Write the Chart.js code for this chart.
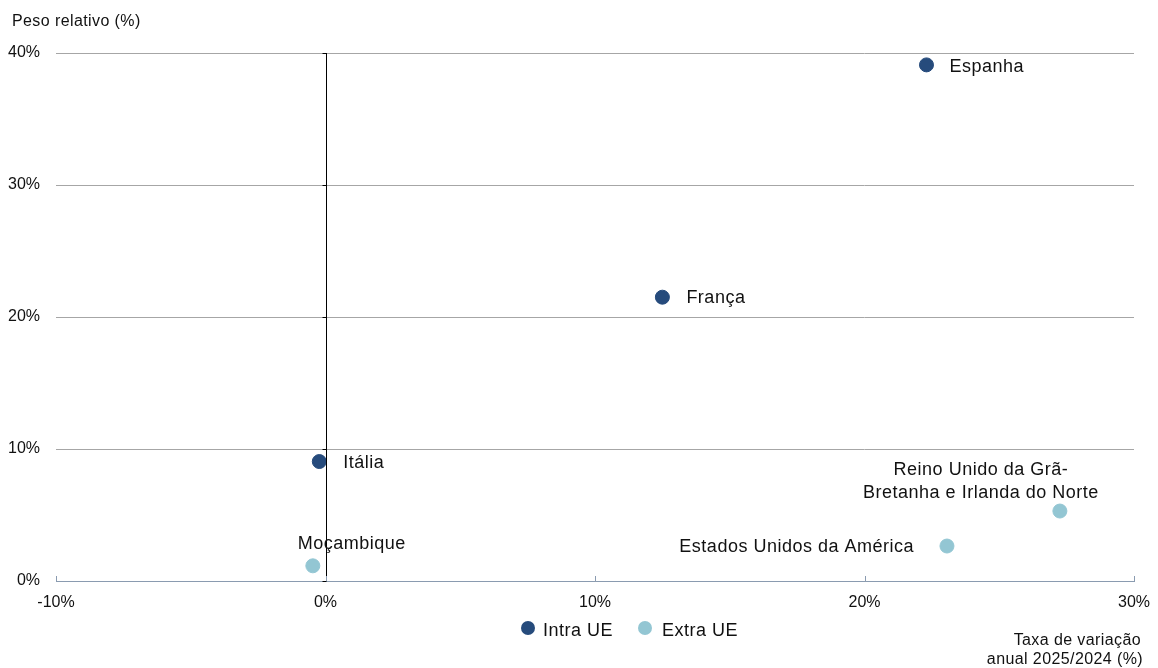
<!DOCTYPE html>
<html>
<head>
<meta charset="utf-8">
<script src="https://cdn.jsdelivr.net/npm/chart.js@4"></script>
<style>
  html, body { margin: 0; padding: 0; background: #fff; }
  #wrap { width: 1158px; height: 668px; }
</style>
</head>
<body>
<div id="wrap"><canvas id="chart" width="1158" height="668"></canvas></div>
<script>
// series
const seriesNames = ["Intra UE", "Extra UE"];
const intraNames = ["Espanha", "França", "Itália"];
const intraX = [22.3, 12.5, -0.23];
const intraY = [39.1, 21.5, 9.05];
const extraNames = ["Moçambique", "Estados Unidos da América", "Reino Unido da Grã-\nBretanha e Irlanda do Norte"];
const extraX = [-0.47, 23.06, 27.25];
const extraY = [1.15, 2.65, 5.3];
const xTicks = [-10, 0, 10, 20, 30];
const yTicks = [0, 10, 20, 30, 40];

const FONT = "Arial, 'Liberation Sans', sans-serif";
const DARK = "#264b7c";
const LIGHT = "#93c6d3";

// label placement relative to the point (dx, dy, align)
const labelPos = {
  "Espanha": [23, 2, "left"],
  "França": [24, 1, "left"],
  "Itália": [24, 1, "left"],
  "Moçambique": [39, -22, "center"],
  "Estados Unidos da América": [-33, 1, "right"],
  "Reino Unido da Grã-\nBretanha e Irlanda do Norte": [-79, -41, "center"]
};

function toPoints(xs, ys, names) {
  return xs.map((x, i) => ({ x: x, y: ys[i], name: names[i] }));
}

const extras = {
  id: "extras",
  afterDatasetsDraw(chart) {
    const ctx = chart.ctx;
    const xs = chart.scales.x, ys = chart.scales.y;
    const area = chart.chartArea;
    ctx.save();

    // vertical axis through x = 0, with small ticks
    const x0 = Math.round(xs.getPixelForValue(0)) + 0.5;
    ctx.strokeStyle = "#000";
    ctx.lineWidth = 1;
    ctx.beginPath();
    ctx.moveTo(x0, area.top);
    ctx.lineTo(x0, area.bottom);
    yTicks.forEach(v => {
      const py = Math.round(ys.getPixelForValue(v)) + 0.5;
      ctx.moveTo(x0 - 4, py);
      ctx.lineTo(x0, py);
    });
    ctx.stroke();

    // bottom axis ticks (inside)
    ctx.strokeStyle = "#8a9bb0";
    ctx.beginPath();
    xTicks.forEach(v => {
      const px = Math.round(xs.getPixelForValue(v)) + 0.5;
      ctx.moveTo(px, area.bottom);
      ctx.lineTo(px, area.bottom - 5);
    });
    ctx.stroke();

    // point labels
    ctx.fillStyle = "#111";
    ctx.font = "18px " + FONT;
    ctx.letterSpacing = "0.5px";
    ctx.textBaseline = "middle";
    chart.data.datasets.forEach(ds => {
      ds.data.forEach(p => {
        const pos = labelPos[p.name];
        const px = xs.getPixelForValue(p.x) + pos[0];
        const py = ys.getPixelForValue(p.y) + pos[1];
        ctx.textAlign = pos[2];
        p.name.split("\n").forEach((line, i) => ctx.fillText(line, px, py + i * 23));
      });
    });

    // axis titles
    ctx.font = "16px " + FONT;
    ctx.letterSpacing = "0.4px";
    ctx.textAlign = "left";
    ctx.fillText("Peso relativo (%)", 12, 22);
    ctx.textAlign = "right";
    ctx.fillText("Taxa de variação", 1141, 641);
    ctx.fillText("anual 2025/2024 (%)", 1143, 660);

    // legend
    ctx.font = "18px " + FONT;
    ctx.letterSpacing = "0.5px";
    ctx.textAlign = "left";
    const legendX = [528, 645];
    const legendGap = [15, 17];
    chart.data.datasets.forEach((ds, i) => {
      ctx.fillStyle = ds.backgroundColor;
      ctx.beginPath();
      ctx.arc(legendX[i], 628, 7, 0, Math.PI * 2);
      ctx.fill();
      ctx.fillStyle = "#111";
      ctx.fillText(ds.label, legendX[i] + legendGap[i], 631);
    });
    ctx.letterSpacing = "0px";
    ctx.restore();
  }
};

new Chart(document.getElementById("chart"), {
  type: "scatter",
  data: {
    datasets: [
      {
        label: seriesNames[0],
        data: toPoints(intraX, intraY, intraNames),
        backgroundColor: DARK,
        borderColor: DARK,
        pointRadius: 7,
        pointHoverRadius: 7
      },
      {
        label: seriesNames[1],
        data: toPoints(extraX, extraY, extraNames),
        backgroundColor: LIGHT,
        borderColor: LIGHT,
        pointRadius: 7,
        pointHoverRadius: 7
      }
    ]
  },
  options: {
    responsive: false,
    animation: false,
    layout: { padding: { left: 0, top: 53, right: 24, bottom: 0 } },
    plugins: {
      legend: { display: false },
      tooltip: { enabled: false }
    },
    scales: {
      x: {
        type: "linear",
        min: -10,
        max: 30,
        afterBuildTicks: s => { s.ticks = xTicks.map(v => ({ value: v })); },
        afterFit: s => { s.height = 87; s.paddingLeft = 0; s.paddingRight = 0; },
        grid: { display: false, drawTicks: false },
        border: { display: true, color: "#8a9bb0", width: 1 },
        ticks: {
          color: "#111",
          padding: 12,
          maxRotation: 0,
          font: { family: FONT, size: 16 },
          callback: v => v + "%"
        }
      },
      y: {
        type: "linear",
        min: 0,
        max: 40,
        afterBuildTicks: s => { s.ticks = yTicks.map(v => ({ value: v })); },
        afterFit: s => { s.width = 56; },
        grid: { color: "#a6a6a6", drawTicks: false },
        border: { display: false },
        ticks: {
          color: "#111",
          padding: 16,
          font: { family: FONT, size: 16 },
          callback: v => v + "%"
        }
      }
    }
  },
  plugins: [extras]
});
</script>
</body>
</html>
